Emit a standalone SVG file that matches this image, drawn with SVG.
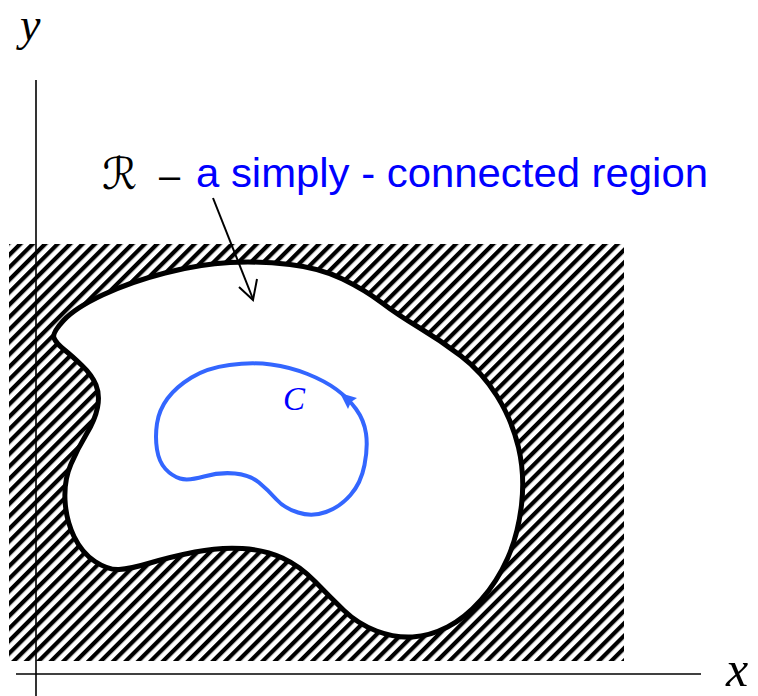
<svg xmlns="http://www.w3.org/2000/svg" width="758" height="696" viewBox="0 0 758 696">
<style>
.axis{stroke:#000;stroke-width:1.6;fill:none}
.region{fill:#fff;stroke:#000;stroke-width:5;stroke-linejoin:round}
.curve{fill:none;stroke:#3366ff;stroke-width:4;stroke-linejoin:round}
.lead{fill:none;stroke:#000;stroke-width:2}
.math{font-family:"Liberation Serif","Times New Roman",serif;font-style:italic}
.lbl{font-family:"Liberation Sans",Arial,sans-serif;fill:#0000ff}
</style>
<defs>
<pattern id="hatch" width="8.8" height="8.8" patternUnits="userSpaceOnUse" patternTransform="rotate(45)">
<rect x="0" y="0" width="4.2" height="8.8" fill="#000"/>
</pattern>
</defs>
<rect id="hatch-area" x="9" y="244" width="615" height="417" fill="url(#hatch)"/>
<g id="axes">
<line class="axis" x1="36" y1="80" x2="36" y2="696"/>
<line class="axis" x1="16" y1="674" x2="701" y2="674"/>
</g>
<g id="region-R">
<path class="region" d="M54,338 Q52,333 63.5,320.5 Q75,308 102.5,295 Q130,282 165,273 Q200,264 230,262.5 Q260,261 290,264.5 Q320,268 342.5,279 Q365,290 381.5,302.5 Q398,315 419,327.5 Q440,340 461,356 Q482,372 497,396 Q512,420 518.5,447.5 Q525,475 521.5,505 Q518,535 507.5,558.5 Q497,582 481,600 Q465,618 447.5,627 Q430,636 412.5,637 Q395,638 376.5,631 Q358,624 344,610.5 Q330,597 315,581.5 Q300,566 282.5,558 Q265,550 242.5,548.5 Q220,547 195,552 Q170,557 150,563 Q130,569 119,569.5 Q108,570 95,561.5 Q82,553 74,536.5 Q66,520 65,500 Q64,480 71,464 Q78,448 86.5,434 Q95,420 97.5,407.5 Q100,395 96,385 Q92,375 82,365.5 Q72,356 64,349.5 Q56,343 54,338 Z"/>
</g>
<g id="curve-C">
<path class="curve" d="M366,433.5 Q364,420 356,409 Q348,398 336.5,389.5 Q325,381 307.5,374 Q290,367 271,364.5 Q252,362 229.5,365 Q207,368 191.5,377.5 Q176,387 167.5,398.5 Q159,410 157,423.5 Q155,437 157,449.5 Q159,462 165.5,469 Q172,476 180,478.5 Q188,481 204,476.5 Q220,472 235,473.5 Q250,475 259,482.5 Q268,490 276,499 Q284,508 298,512.5 Q312,517 326,512 Q340,507 350.5,495 Q361,483 364.5,465 Q368,447 366,433.5 Z"/>
<polygon points="340,393 357,398 351,402 348,409" fill="#3366ff"/>
<text class="math" x="283" y="410" font-size="33" fill="#0000ff">C</text>
</g>
<g id="label-R">
<text x="102" y="189" font-family="'DejaVu Serif','DejaVu Sans',serif" font-size="44" fill="#000">ℛ</text>
<text x="159" y="189" font-family="'Liberation Sans',Arial,sans-serif" font-size="38" fill="#000">–</text>
<text class="lbl" x="196" y="187" font-size="41" textLength="512" lengthAdjust="spacingAndGlyphs">a simply - connected region</text>
</g>
<g id="connectors">
<line class="lead" x1="213" y1="198" x2="253" y2="299"/>
<polyline class="lead" points="239,287 253,300 257,279"/>
</g>
<g id="axis-labels">
<text class="math" x="20" y="40" font-size="46" fill="#000">y</text>
<text class="math" x="726" y="686" font-size="50" fill="#000">x</text>
</g>
</svg>
